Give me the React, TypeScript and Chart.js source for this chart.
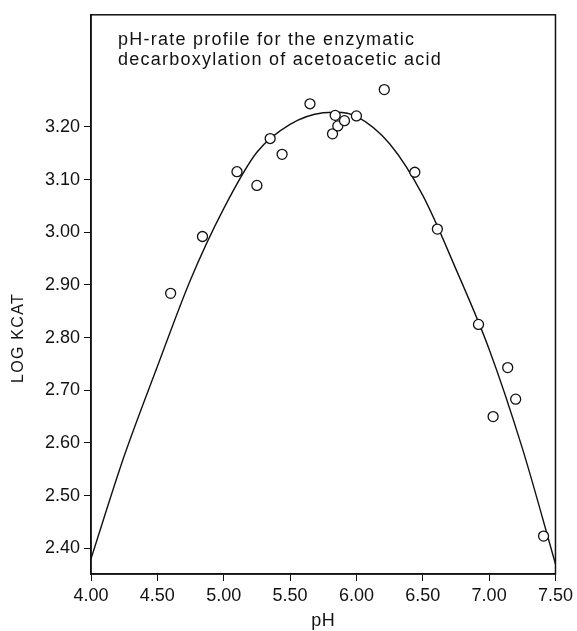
import { useEffect, useRef } from "react";
import { Chart, registerables } from "chart.js";

Chart.register(...registerables);

// Measured data points (pH, log kcat)
const PH = [4.60, 4.84, 5.10, 5.25, 5.35, 5.44, 5.65, 5.82, 5.84, 5.86, 5.91, 6.00, 6.21, 6.44, 6.61, 6.92, 7.14, 7.20, 7.03, 7.41];
const LOG_KCAT = [2.884, 2.992, 3.115, 3.089, 3.178, 3.148, 3.244, 3.187, 3.222, 3.202, 3.212, 3.221, 3.271, 3.114, 3.006, 2.825, 2.743, 2.683, 2.650, 2.423];

// Fitted curve
const CURVE_PH = [4.00, 4.25, 4.50, 4.75, 5.00, 5.25, 5.50, 5.75, 5.85, 6.00, 6.25, 6.50, 6.75, 7.00, 7.25, 7.50];
const CURVE_LOGK = [2.38, 2.575, 2.745, 2.91, 3.045, 3.152, 3.205, 3.227, 3.228, 3.22, 3.168, 3.07, 2.93, 2.778, 2.59, 2.37];

const X_TICKS = [4.0, 4.5, 5.0, 5.5, 6.0, 6.5, 7.0, 7.5];
const Y_TICKS = [2.4, 2.5, 2.6, 2.7, 2.8, 2.9, 3.0, 3.1, 3.2];

const TITLE_LINES = ["pH-rate profile for the enzymatic", "decarboxylation of acetoacetic acid"];
const X_TITLE = "pH";
const Y_TITLE = "LOG KCAT";

const FONT = "'Liberation Sans', Arial, Helvetica, sans-serif";
const INK = "#111";

const annotations = {
  id: "annotations",
  afterDraw(chart: any) {
    const { ctx, chartArea } = chart;
    ctx.save();
    // frame
    ctx.strokeStyle = INK;
    ctx.lineWidth = 1.5;
    ctx.strokeRect(chartArea.left, chartArea.top, chartArea.right - chartArea.left, chartArea.bottom - chartArea.top);
    ctx.fillStyle = INK;
    // title inside the plot
    ctx.font = `18px ${FONT}`;
    try { (ctx as any).letterSpacing = "1.25px"; } catch (e) {}
    ctx.textAlign = "left";
    ctx.textBaseline = "alphabetic";
    TITLE_LINES.forEach((line, i) => {
      ctx.fillText(line, chartArea.left + 27, chartArea.top + 30 + i * 20);
    });
    // x title
    try { (ctx as any).letterSpacing = "0.5px"; } catch (e) {}
    ctx.textAlign = "center";
    ctx.fillText(X_TITLE, (chartArea.left + chartArea.right) / 2, chartArea.bottom + 52);
    // y title
    ctx.font = `16px ${FONT}`;
    try { (ctx as any).letterSpacing = "1.3px"; } catch (e) {}
    ctx.translate(18.5, 338);
    ctx.rotate(-Math.PI / 2);
    ctx.textBaseline = "middle";
    ctx.fillText(Y_TITLE, 0, 0);
    ctx.restore();
  },
};

export default function App() {
  const ref = useRef<HTMLCanvasElement | null>(null);

  useEffect(() => {
    if (!ref.current) return;
    const chart = new Chart(ref.current, {
      type: "scatter",
      data: {
        datasets: [
          {
            type: "scatter",
            data: PH.map((x, i) => ({ x, y: LOG_KCAT[i] })),
            pointStyle: "circle",
            pointRadius: 5,
            pointBackgroundColor: "#fff",
            pointBorderColor: INK,
            pointBorderWidth: 1.3,
            order: 0,
          },
          {
            type: "line",
            data: CURVE_PH.map((x, i) => ({ x, y: CURVE_LOGK[i] })),
            showLine: true,
            borderColor: INK,
            borderWidth: 1.4,
            pointRadius: 0,
            cubicInterpolationMode: "monotone",
            fill: false,
            order: 1,
          } as any,
        ],
      },
      options: {
        responsive: false,
        animation: false,
        events: [],
        layout: { padding: { left: 0, top: 11, right: 19, bottom: 0 } },
        plugins: { legend: { display: false }, tooltip: { enabled: false }, title: { display: false } },
        scales: {
          x: {
            type: "linear",
            min: 4.0,
            max: 7.5,
            afterBuildTicks: (scale: any) => {
              scale.ticks = X_TICKS.map((v) => ({ value: v }));
            },
            afterFit: (scale: any) => {
              scale.height = 57;
            },
            grid: { display: true, drawOnChartArea: false, drawTicks: true, tickLength: 7, tickColor: INK, tickWidth: 1 },
            border: { display: true, color: INK, width: 1.5 },
            ticks: {
              color: INK,
              font: { family: FONT, size: 18 },
              padding: 4,
              maxRotation: 0,
              autoSkip: false,
              callback: (v: any) => Number(v).toFixed(2),
            },
          },
          y: {
            type: "linear",
            min: 2.351,
            max: 3.413,
            afterBuildTicks: (scale: any) => {
              scale.ticks = Y_TICKS.map((v) => ({ value: v }));
            },
            afterFit: (scale: any) => {
              scale.width = 91;
            },
            grid: { display: true, drawOnChartArea: false, drawTicks: true, tickLength: 7, tickColor: INK, tickWidth: 1 },
            border: { display: true, color: INK, width: 1.5 },
            ticks: {
              color: INK,
              font: { family: FONT, size: 18 },
              padding: 4,
              autoSkip: false,
              callback: (v: any) => Number(v).toFixed(2),
            },
          },
        },
      },
      plugins: [annotations],
    });
    return () => chart.destroy();
  }, []);

  return (
    <div style={{ position: "fixed", left: 0, top: 0, width: 577, height: 631, background: "#fff" }}>
      <canvas ref={ref} width={577} height={631} style={{ display: "block" }} />
    </div>
  );
}
